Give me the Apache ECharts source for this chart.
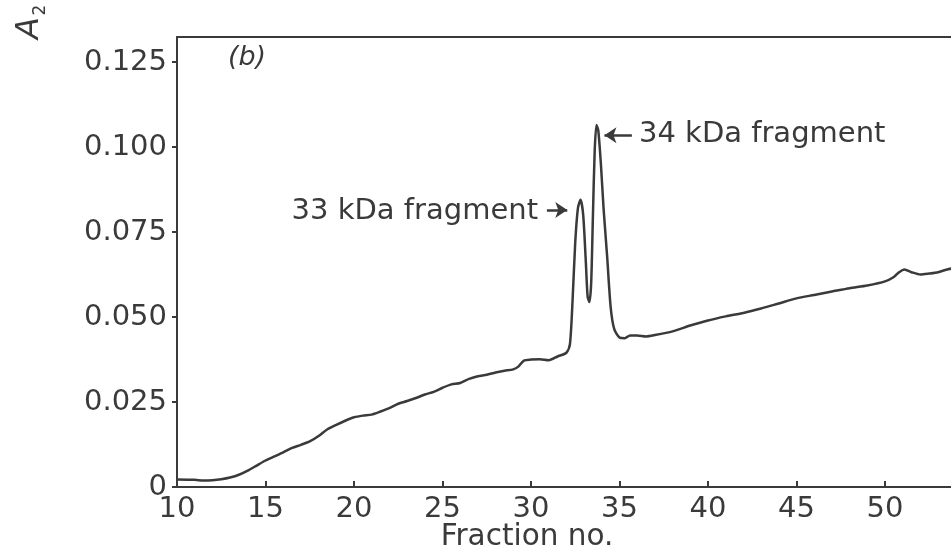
<!DOCTYPE html>
<html>
<head>
<meta charset="utf-8">
<script src="https://cdn.jsdelivr.net/npm/echarts@6/dist/echarts.min.js"></script>
<style>html,body{margin:0;padding:0;background:#fff;}#c{width:951px;height:553px;}</style>
</head>
<body>
<div id="c"></div>
<script>
// Fraction numbers (x) and absorbance A2 (y)
const fractions = [10, 11, 11.5, 12, 12.5, 13, 13.5, 14, 14.5, 15, 15.5, 16, 16.5, 17, 17.5, 18, 18.5, 19, 19.5, 20,
  20.5, 21, 21.5, 22, 22.5, 23, 23.5, 24, 24.5, 25, 25.5, 26, 26.5, 27, 27.5, 28, 28.5, 29, 29.3, 29.6,
  30, 30.5, 31, 31.5, 32, 32.2, 32.35, 32.5, 32.65, 32.8, 32.95, 33.1, 33.2, 33.3, 33.4, 33.5, 33.6, 33.7, 33.8, 33.95,
  34.1, 34.3, 34.5, 34.7, 35.0, 35.3, 35.6, 36, 36.5, 37, 38, 39, 40, 41, 42, 43, 44, 45, 46, 47,
  48, 49, 50, 50.5, 50.8, 51.1, 51.5, 52, 52.5, 53, 53.5, 54];
const absorbance = [0.0022, 0.0021, 0.0019, 0.0020, 0.0023, 0.0028, 0.0036, 0.0048, 0.0063, 0.0078, 0.0090, 0.0102, 0.0115, 0.0124, 0.0134, 0.0150, 0.0170, 0.0183, 0.0195, 0.0205,
  0.0210, 0.0213, 0.0222, 0.0232, 0.0245, 0.0253, 0.0262, 0.0272, 0.0280, 0.0292, 0.0302, 0.0306, 0.0318, 0.0326, 0.0330, 0.0337, 0.0342, 0.0346, 0.0355, 0.0372,
  0.0375, 0.0376, 0.0373, 0.0384, 0.0395, 0.0420, 0.0550, 0.0720, 0.0820, 0.0845, 0.0800, 0.0660, 0.0560, 0.0544, 0.0600, 0.0800, 0.0990, 0.1065, 0.1050, 0.0950,
  0.0820, 0.0680, 0.0530, 0.0465, 0.0440, 0.0438, 0.0446, 0.0446, 0.0443, 0.0447, 0.0458, 0.0475, 0.0490, 0.0502, 0.0512, 0.0525, 0.0540, 0.0555, 0.0565, 0.0575,
  0.0585, 0.0593, 0.0605, 0.0618, 0.0632, 0.0640, 0.0632, 0.0625, 0.0628, 0.0632, 0.0640, 0.0645];
const yTicks = [0, 0.025, 0.05, 0.075, 0.1, 0.125];
const xTicks = [10, 15, 20, 25, 30, 35, 40, 45, 50];
const peakLabels = ['33 kDa fragment', '34 kDa fragment'];
// arrow anchors (fraction, A2)
const arrow33 = [[30.9, 0.0815], [32.05, 0.0815]];
const arrow34 = [[35.7, 0.1035], [34.15, 0.1035]];

const ink = '#3a3a3a';
const font = '"DejaVu Sans", sans-serif';
const chart = echarts.init(document.getElementById('c'), null, {renderer: 'canvas'});
const points = fractions.map((f, i) => [f, absorbance[i]]);

chart.setOption({
  backgroundColor: '#ffffff',
  animation: false,
  grid: {left: 177, right: 0, top: 37, bottom: 66, show: false, containLabel: false},
  xAxis: [{
    type: 'value', min: 10, max: 53.73, interval: 5, position: 'bottom',
    axisLine: {show: true, lineStyle: {color: ink, width: 2}},
    axisTick: {show: true, inside: true, length: 6, lineStyle: {color: ink, width: 2}},
    axisLabel: {color: ink, fontSize: 29, fontFamily: font, margin: 8, showMaxLabel: false,
      formatter: v => xTicks.includes(v) ? String(v) : ''},
    splitLine: {show: false}
  }, {
    type: 'value', min: 10, max: 53.73, position: 'top',
    axisLine: {show: true, lineStyle: {color: ink, width: 2}},
    axisTick: {show: false}, axisLabel: {show: false}, splitLine: {show: false}
  }],
  yAxis: {
    type: 'value', min: 0, max: 0.1324, interval: 0.025,
    axisLine: {show: true, lineStyle: {color: ink, width: 2}},
    axisTick: {show: true, inside: false, length: 5, lineStyle: {color: ink, width: 2}},
    axisLabel: {color: ink, fontSize: 29, fontFamily: font, margin: 10, showMaxLabel: false,
      formatter: v => {
        const t = yTicks.find(k => Math.abs(k - v) < 1e-9);
        if (t === undefined) return '';
        return t === 0 ? '0' : t.toFixed(3);
      }},
    splitLine: {show: false}
  },
  series: [{
    type: 'line',
    xAxisIndex: 0,
    data: points,
    showSymbol: false,
    smooth: 0.25,
    lineStyle: {color: ink, width: 2.5},
    markLine: {
      silent: true,
      symbol: ['none', 'arrow'],
      symbolSize: [12, 12],
      label: {show: false},
      lineStyle: {color: ink, width: 2.5, type: 'solid'},
      data: [
        [{coord: arrow33[0]}, {coord: arrow33[1]}],
        [{coord: arrow34[0]}, {coord: arrow34[1]}]
      ]
    }
  }],
  graphic: [
    {type: 'text', x: 30, y: 28, rotation: Math.PI / 2,
      style: {text: 'A', font: 'italic 32px ' + font, fill: ink, align: 'center', verticalAlign: 'middle'}},
    {type: 'text', x: 41, y: 10, rotation: Math.PI / 2,
      style: {text: '2', font: '17px ' + font, fill: ink, align: 'center', verticalAlign: 'middle'}},
    {type: 'text', x: 247, y: 58,
      style: {text: '(b)', font: 'italic 27px ' + font, fill: ink, align: 'center', verticalAlign: 'middle'}},
    {type: 'text', x: 538, y: 211,
      style: {text: peakLabels[0], font: '29px ' + font, fill: ink, align: 'right', verticalAlign: 'middle'}},
    {type: 'text', x: 639, y: 134,
      style: {text: peakLabels[1], font: '29px ' + font, fill: ink, align: 'left', verticalAlign: 'middle'}},
    {type: 'text', x: 527, y: 537,
      style: {text: 'Fraction no.', font: '29.5px ' + font, fill: ink, align: 'center', verticalAlign: 'middle'}}
  ]
});
</script>
</body>
</html>
